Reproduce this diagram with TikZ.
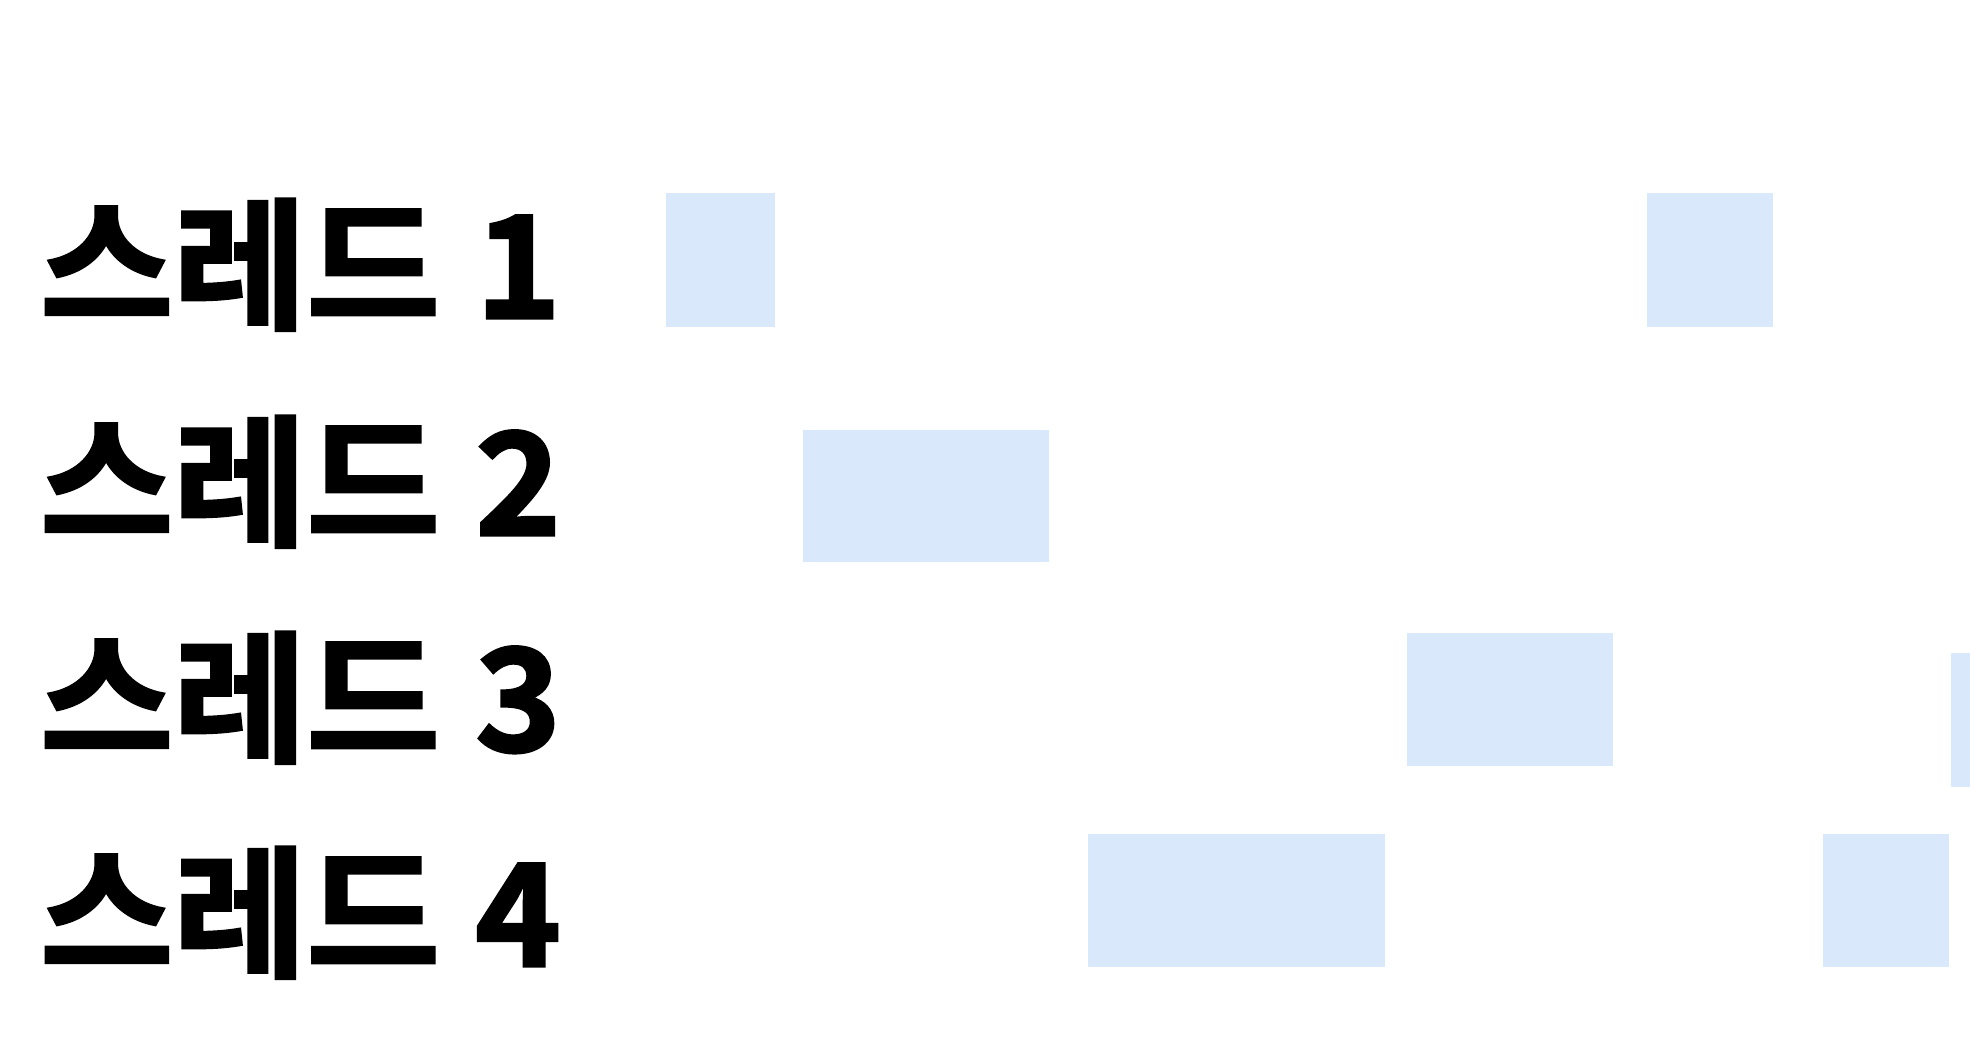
\documentclass[tikz,border=0pt]{standalone}
\usepackage{fontspec}
\newfontfamily\kr[FakeBold=2.2,FakeStretch=1.02]{Noto Sans CJK KR Bold}
\definecolor{blk}{HTML}{DAE8FC}
\begin{document}
\begin{tikzpicture}[x=1pt,y=-1pt,
  lbl/.style={anchor=base west,inner sep=0pt,font=\kr\fontsize{142}{142}\selectfont},
  blockbox/.style={fill=blk,draw=none}]
\useasboundingbox[fill=white] (0,0) rectangle (1970,1043);
\node[lbl] (t1) at (40,318) {스레드\hspace{0.25em}1};
\node[lbl] (t2) at (40,535) {스레드\hspace{0.25em}2};
\node[lbl] (t3) at (40,751) {스레드\hspace{0.25em}3};
\node[lbl] (t4) at (40,966) {스레드\hspace{0.25em}4};
\fill[blockbox] (666,193) rectangle (775,327);
\fill[blockbox] (1647,193) rectangle (1773,327);
\fill[blockbox] (803,430) rectangle (1049,562);
\fill[blockbox] (1407,633) rectangle (1613,766);
\fill[blockbox] (1951,653) rectangle (1970,787);
\fill[blockbox] (1088,834) rectangle (1385,967);
\fill[blockbox] (1823,834) rectangle (1949,967);
\end{tikzpicture}
\end{document}
